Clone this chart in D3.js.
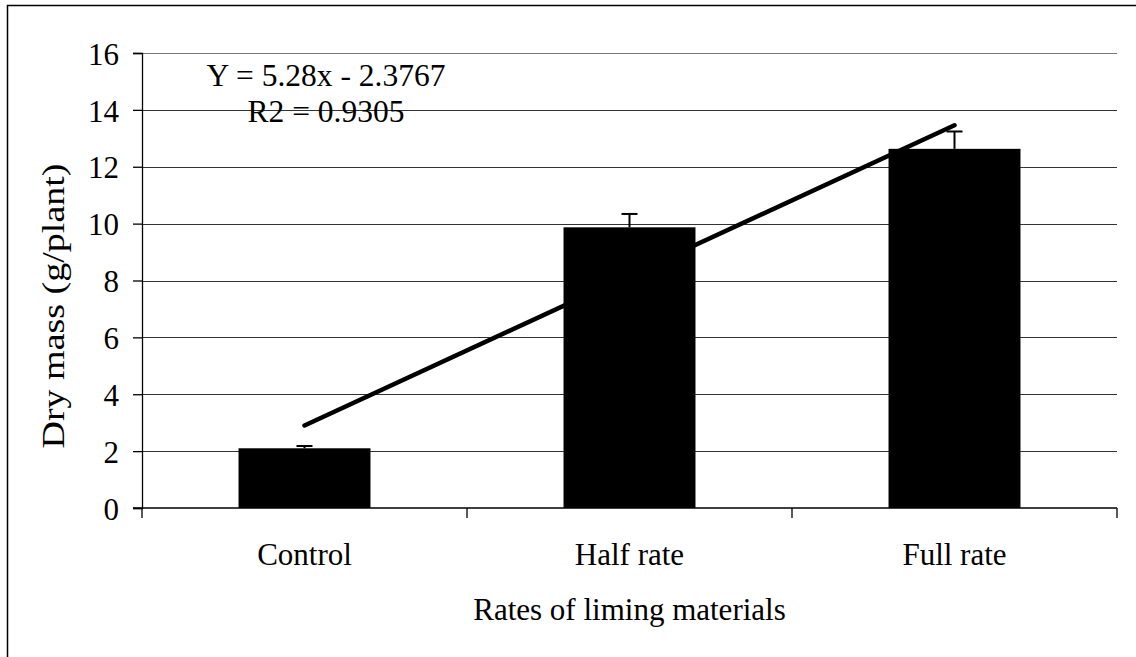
<!DOCTYPE html>
<html>
<head>
<meta charset="utf-8">
<script src="https://cdn.jsdelivr.net/npm/d3@7"></script>
<style>
  body { margin: 0; background: #fff; }
  svg { display: block; font-family: "Liberation Serif", "Times New Roman", serif; }
</style>
</head>
<body>
<div id="chart"></div>
<script>
(function () {

  // data
  const categories = ['Control', 'Half rate', 'Full rate']
  const dryMass = [2.1, 9.87, 12.63]
  const errors = [0.08, 0.47, 0.61]
  const yTicks = [0, 2, 4, 6, 8, 10, 12, 14, 16]
  // linear trend, ends at the first and last category
  const trendCats = ['Control', 'Full rate']
  const trendValues = [2.90, 13.46]
  const equationLines = ['Y = 5.28x - 2.3767', 'R2 = 0.9305']

  const W = 1136, H = 657
  const margin = { top: 53, right: 19, bottom: 149, left: 142 }
  const width = W - margin.left - margin.right
  const height = H - margin.top - margin.bottom
  const serif = 'Liberation Serif'

  const root = d3.select('#chart').append('svg')
    .attr('width', W)
    .attr('height', H)

  // outer frame, runs off the right and bottom edge
  root.append('rect')
    .attr('x', 7.5).attr('y', 5.5)
    .attr('width', 1300).attr('height', 800)
    .attr('fill', 'none')
    .attr('stroke', '#000')
    .attr('stroke-width', 1.5)

  const svg = root.append('g')
    .attr('transform', 'translate(' + margin.left + ',' + margin.top + ')')

  const xScale = d3.scaleBand()
    .domain(categories)
    .range([0, width])
    .paddingInner(0.594)
    .paddingOuter(0.297)

  const yScale = d3.scaleLinear()
    .domain([0, 16])
    .range([height, 0])

  // gridlines
  svg.append('g')
    .selectAll('line')
    .data(yTicks.filter(d => d > 0))
    .join('line')
    .attr('x1', 0)
    .attr('x2', width)
    .attr('y1', d => Math.round(yScale(d)) + 0.5)
    .attr('y2', d => Math.round(yScale(d)) + 0.5)
    .attr('stroke', d => d === 16 ? '#777' : '#333')
    .attr('stroke-width', 1.2)

  // y axis
  const yAxis = d3.axisLeft(yScale)
    .tickValues(yTicks)
    .tickSize(9)
    .tickPadding(14)
  const yG = svg.append('g')
    .attr('class', 'axis y-axis')
    .call(yAxis)
    .attr('font-family', serif)
    .attr('font-size', 31)
  yG.select('.domain').attr('stroke', '#000').attr('stroke-width', 1.3)
  yG.selectAll('.tick line').attr('stroke', '#000').attr('stroke-width', 1.3)
  yG.selectAll('.tick text')
    .attr('font-family', serif)
    .attr('font-size', 31)
    .attr('fill', '#000')
    .attr('dy', '0.36em')

  // x axis: ticks sit between categories
  const edges = d3.range(categories.length + 1).map(i => i * xScale.step())
  const xG = svg.append('g')
    .attr('class', 'axis x-axis')
    .attr('transform', 'translate(0,' + height + ')')
  xG.append('line')
    .attr('x1', -9).attr('x2', width)
    .attr('stroke', '#000').attr('stroke-width', 1.5)
  xG.selectAll('.edge')
    .data(edges)
    .join('line')
    .attr('class', 'edge')
    .attr('x1', d => d).attr('x2', d => d)
    .attr('y1', 0).attr('y2', 10)
    .attr('stroke', '#000').attr('stroke-width', 1.3)
  xG.selectAll('text')
    .data(categories)
    .join('text')
    .attr('x', d => xScale(d) + xScale.bandwidth() / 2)
    .attr('y', 57)
    .attr('text-anchor', 'middle')
    .attr('font-family', serif)
    .attr('font-size', 31)
    .text(d => d)

  // bars
  svg.append('g')
    .selectAll('rect')
    .data(categories)
    .join('rect')
    .attr('x', d => xScale(d))
    .attr('width', xScale.bandwidth())
    .attr('y', (d, i) => yScale(dryMass[i]))
    .attr('height', (d, i) => height - yScale(dryMass[i]))
    .attr('fill', '#000')

  // error bars, upper half only
  const errG = svg.append('g')
  errG.selectAll('.err')
    .data(categories)
    .join('line')
    .attr('class', 'err')
    .attr('x1', d => xScale(d) + xScale.bandwidth() / 2)
    .attr('x2', d => xScale(d) + xScale.bandwidth() / 2)
    .attr('y1', (d, i) => yScale(dryMass[i]))
    .attr('y2', (d, i) => yScale(dryMass[i] + errors[i]))
    .attr('stroke', '#000').attr('stroke-width', 2)
  errG.selectAll('.cap')
    .data(categories)
    .join('line')
    .attr('class', 'cap')
    .attr('x1', d => xScale(d) + xScale.bandwidth() / 2 - 8)
    .attr('x2', d => xScale(d) + xScale.bandwidth() / 2 + 8)
    .attr('y1', (d, i) => yScale(dryMass[i] + errors[i]))
    .attr('y2', (d, i) => yScale(dryMass[i] + errors[i]))
    .attr('stroke', '#000').attr('stroke-width', 2)

  // trendline
  const line = d3.line()
    .x((d, i) => xScale(trendCats[i]) + xScale.bandwidth() / 2)
    .y(d => yScale(d))
  svg.append('path')
    .datum(trendValues)
    .attr('d', line)
    .attr('fill', 'none')
    .attr('stroke', '#000')
    .attr('stroke-width', 4.5)
    .attr('stroke-linecap', 'round')

  // equation label
  svg.append('g')
    .selectAll('text')
    .data(equationLines)
    .join('text')
    .attr('x', 184)
    .attr('y', (d, i) => 33 + i * 35.5)
    .attr('text-anchor', 'middle')
    .attr('font-family', serif)
    .attr('font-size', 31.5)
    .text(d => d)

  // axis titles
  root.append('text')
    .attr('transform', 'translate(64,306) rotate(-90)')
    .attr('text-anchor', 'middle')
    .attr('font-family', serif)
    .attr('font-size', 31)
    .attr('textLength', 285)
    .attr('lengthAdjust', 'spacingAndGlyphs')
    .text('Dry mass (g/plant)')

  root.append('text')
    .attr('x', 629.5)
    .attr('y', 620)
    .attr('text-anchor', 'middle')
    .attr('font-family', serif)
    .attr('font-size', 31)
    .text('Rates of liming materials')

})();
</script>
</body>
</html>
